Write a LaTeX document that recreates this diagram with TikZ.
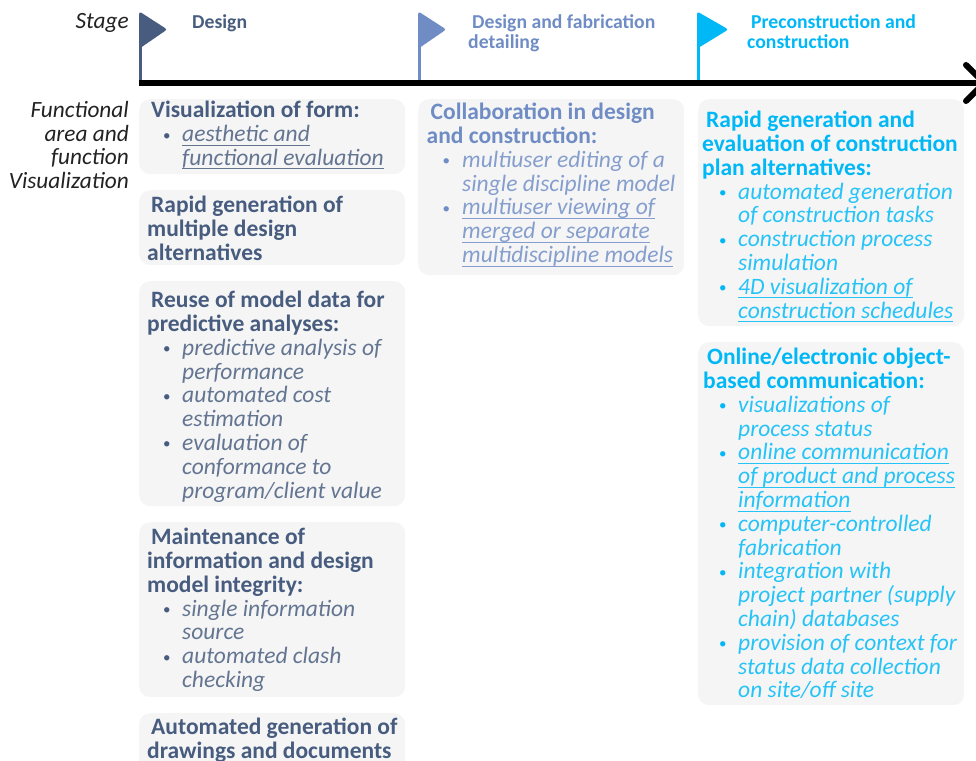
\documentclass[tikz,border=0pt]{standalone}
\usepackage{xcolor}
\usepackage{fontspec}
\setmainfont{Carlito}
\usepackage{tikz}
\definecolor{stagea}{HTML}{475C7E}
\definecolor{stageb}{HTML}{6F8DC4}
\definecolor{stagec}{HTML}{00B8F5}
\definecolor{cardbg}{HTML}{F5F5F6}
\definecolor{labtext}{HTML}{222222}
\tikzset{
  card/.style={fill=cardbg, draw=none, rounded corners=11pt, anchor=north west, minimum width=266pt, inner sep=0pt},
  cardtext/.style={anchor=north west, align=left, inner sep=0pt, font=\fontsize{23.5}{23.8}\selectfont\bfseries},
  stagehead/.style={anchor=north west, align=left, inner sep=0pt, font=\fontsize{19.7}{20}\selectfont\bfseries},
  lab/.style={anchor=north east, align=right, inner sep=0pt, text=labtext, font=\fontsize{23.3}{23.8}\selectfont\itshape},
  axisline/.style={draw=black, line width=6pt, line join=round},
  pole/.style={line width=3pt},
  flagtip/.style={line width=3pt, line join=round},
}
\def\itemx{35pt}
\newcommand{\ulin}[1]{\setbox0\hbox{#1}\rlap{\rule[-4pt]{\wd0}{0.9pt}}\box0}
\newcommand{\hd}[1]{\hspace*{4pt}#1}
\newcommand{\bul}[1]{\makebox[\itemx][l]{\hspace*{16pt}\raisebox{1.5pt}{\fontsize{15}{15}\selectfont\normalfont\textbullet}}{\color{.!85!white}\normalfont\itshape #1}}
\newcommand{\cont}[1]{\hspace*{\itemx}{\color{.!85!white}\normalfont\itshape #1}}

\begin{document}
\begin{tikzpicture}[x=1pt,y=-1pt]
  \useasboundingbox (0,0) rectangle (976,760);
  \clip (0,0) rectangle (976,760);
  % stages
  \coordinate (axisstart) at (139,83);
  \coordinate (axisend) at (984,83);
  \coordinate (tiptop) at (966,65);
  \coordinate (tipbot) at (966,101);
  \foreach \x/\w/\h/\c in {139/27/46/stagea,418/27/46/stageb,697/30/46/stagec}{
    \draw[draw=\c,pole] (\x+1.5,80) -- (\x+1.5,14);
    \fill[\c,draw=\c,flagtip] (\x+1.5,14) -- (\x+\w-1.5,29.5) -- (\x+1.5,\h) -- cycle;
  }
  \draw[axisline] (axisstart) -- (axisend);
  \draw[axisline,line cap=round] (tiptop) -- (axisend) -- (tipbot);
  \node[stagehead,text=stagea] (designhead) at (192,14) {Design};
  \node[stagehead,text=stageb] (detailhead) at (468,14) {\hd{Design and fabrication}\\detailing};
  \node[stagehead,text=stagec] (buildhead) at (747,14) {\hd{Preconstruction and}\\construction};
  \node[lab] (stagelab) at (129,13) {Stage};
  \node[lab] (arealab) at (129,101) {Functional\\area and\\function\\Visualization};
  % design column
  \node[card,minimum height=75pt] (formcard) at (139,99) {};
  \node[card,minimum height=75pt] (altcard) at (139,190) {};
  \node[card,minimum height=225pt] (reusecard) at (139,281) {};
  \node[card,minimum height=175pt] (integcard) at (139,522) {};
  \node[card,minimum height=80pt] (drawcard) at (139,713) {};
  \node[cardtext,text=stagea] (formtext) at (147,101) {\hd{Visualization of form:}\\
    \bul{\ulin{aesthetic and}}\\\cont{\ulin{functional evaluation}}};
  \node[cardtext,text=stagea] (alttext) at (147,196) {\hd{Rapid generation of}\\multiple design\\alternatives};
  \node[cardtext,text=stagea] (reusetext) at (147,291) {\hd{Reuse of model data for}\\predictive analyses:\\
    \bul{predictive analysis of}\\\cont{performance}\\
    \bul{automated cost}\\\cont{estimation}\\
    \bul{evaluation of}\\\cont{conformance to}\\\cont{program/client value}};
  \node[cardtext,text=stagea] (integtext) at (147,528) {\hd{Maintenance of}\\information and design\\model integrity:\\
    \bul{single information}\\\cont{source}\\
    \bul{automated clash}\\\cont{checking}};
  \node[cardtext,text=stagea] (drawtext) at (147,718) {\hd{Automated generation of}\\drawings and documents};
  % detailing column
  \node[card,minimum height=176pt] (collabcard) at (418,99) {};
  \def\itemx{35.5pt}
  \node[cardtext,text=stageb] (collabtext) at (426.5,103) {\hd{Collaboration in design}\\and construction:\\
    \bul{multiuser editing of a}\\\cont{single discipline model}\\
    \bul{\ulin{multiuser viewing of}}\\\cont{\ulin{merged or separate}}\\\cont{\ulin{multidiscipline models}}};
  \def\itemx{35pt}
  % construction column
  \node[card,minimum height=227pt] (plancard) at (698,99) {};
  \node[card,minimum height=363pt] (onlinecard) at (698,342) {};
  \node[cardtext,text=stagec] (plantext) at (702,111) {\hd{Rapid generation and}\\evaluation of construction\\plan alternatives:\\
    \hspace*{1pt}\bul{automated generation}\\\hspace*{1pt}\cont{of construction tasks}\\
    \hspace*{1pt}\bul{construction process}\\\hspace*{1pt}\cont{simulation}\\
    \hspace*{1pt}\bul{\ulin{4D visualization of}}\\\hspace*{1pt}\cont{\ulin{construction schedules}}};
  \node[cardtext,text=stagec] (onlinetext) at (703,348) {\hd{Online/electronic object-}\\based communication:\\
    \bul{visualizations of}\\\cont{process status}\\
    \bul{\ulin{online communication}}\\\cont{\ulin{of product and process}}\\\cont{\ulin{information}}\\
    \bul{computer-controlled}\\\cont{fabrication}\\
    \bul{integration with}\\\cont{project partner (supply}\\\cont{chain) databases}\\
    \bul{provision of context for}\\\cont{status data collection}\\\cont{on site/off site}};
\end{tikzpicture}
\end{document}
